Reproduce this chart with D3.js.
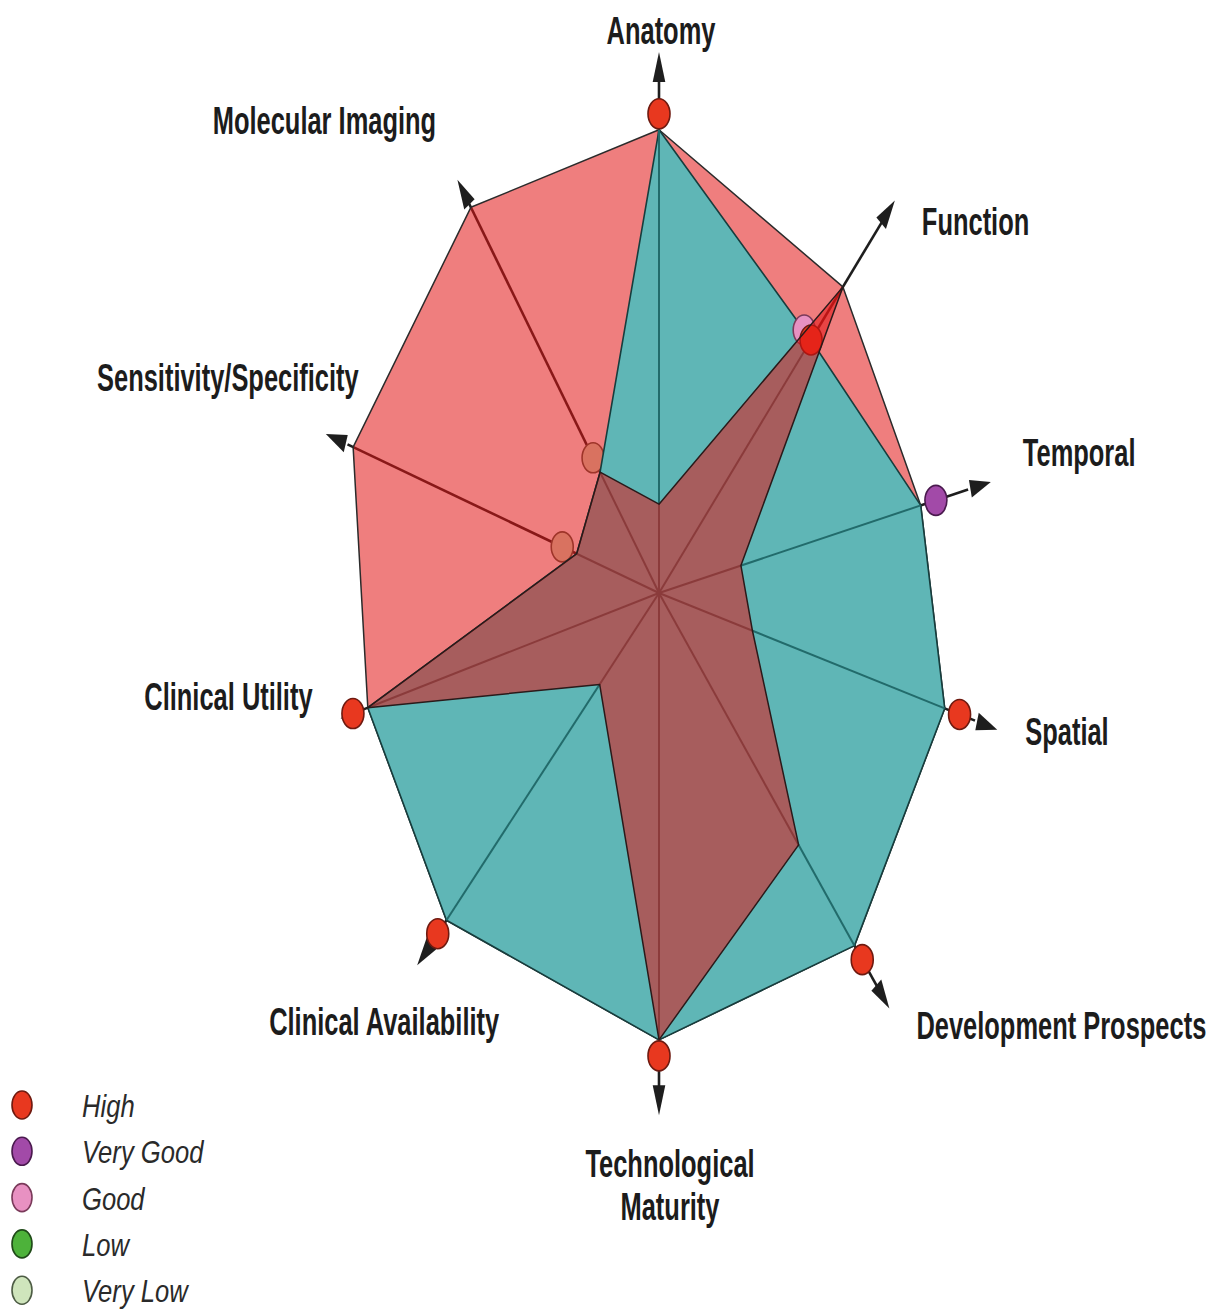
<!DOCTYPE html>
<html>
<head>
<meta charset="utf-8">
<script src="https://cdn.jsdelivr.net/npm/d3@7"></script>
<style>
  html, body { margin: 0; padding: 0; background: #fff; }
  svg { display: block; font-family: "Liberation Sans", Arial, sans-serif; }
</style>
</head>
<body>
<script>
// ---- data ----
const axes = [
  "Anatomy", "Function", "Temporal", "Spatial", "Development Prospects",
  "Technological Maturity", "Clinical Availability", "Clinical Utility",
  "Sensitivity/Specificity", "Molecular Imaging"
];
// scores on a 0-10 radial scale
const outerValues = [9.65, 7.44, 5.75, 6.42, 8.4, 9.31, 8.13, 6.52, 7.06, 8.94];
const tealValues  = [9.65, 6.15, 5.75, 6.42, 8.4, 9.31, 8.13, 6.52, 1.9, 2.8];
const starValues  = [1.85, 7.44, 1.8, 2.1, 6.0, 9.31, 2.27, 6.52, 1.9, 2.8];
const axisReach   = [11.27, 9.54, 7.29, 7.6, 9.9, 10.88, 9.25, 7.13, 7.69, 9.58];
const ratings = [
  ["High"], ["Good", "High"], ["Very Good"], ["High"], ["High"],
  ["High"], ["High"], ["High"], ["Very Low"], ["Very Low"]
];
const levels = ["High", "Very Good", "Good", "Low", "Very Low"];

// ---- layout ----
const width = 1206, height = 1314;
const cx = 659, cy = 593;
const axisAngle = [0, 31, 71.5, 112, 151, 180, 213, 248.5, 295.5, 334];
const labelOffset = [[2, -8], [27, 35], [32, -16], [28, 15], [27, 30],
  [11, 62], [-33, 70], [-28, -8], [-98, -43], [-133, -46]];
const labelAnchor = ["middle", "start", "start", "start", "start",
  "middle", "middle", "end", "middle", "middle"];
const SQUISH = 0.7;
const DOT_RX = 11, DOT_RY = 15, DOT_GAP = 16;

const levelFill = d3.scaleOrdinal(levels, ["#e8381f", "#a24aa8", "#e891c2", "#4db23a", "#cfe5bc"]);
const levelStroke = d3.scaleOrdinal(levels, ["#6e1a10", "#4a1a4e", "#7a3a5a", "#1f4a18", "#4d5c44"]);

const r = d3.scaleLinear().domain([0, 10]).range([0, 480]);
const angle = d3.scaleOrdinal()
  .domain(axes)
  .range(axisAngle.map(a => a * Math.PI / 180));

const pt = (axis, v, extra = 0) => d3.pointRadial(angle(axis), r(v) + extra);

const svg = d3.select("body").append("svg")
  .attr("width", width)
  .attr("height", height);

const g = svg.append("g").attr("transform", `translate(${cx},${cy})`);

const series = vals => axes.map((a, i) => ({ axis: a, value: vals[i] }));
const radial = d3.lineRadial()
  .angle(d => angle(d.axis))
  .radius(d => r(d.value))
  .curve(d3.curveLinearClosed);

// arrowhead drawn in "unsquished" space, then narrowed horizontally
function arrowHead(tip) {
  const dx = tip[0] / SQUISH, dy = tip[1];
  const len = Math.hypot(dx, dy);
  const ux = dx / len, uy = dy / len;
  const L = 30, W = 9;
  const bx = -ux * L, by = -uy * L;
  const px = -uy * W, py = ux * W;
  return [
    tip,
    [tip[0] + (bx + px) * SQUISH, tip[1] + by + py],
    [tip[0] + (bx - px) * SQUISH, tip[1] + by - py]
  ];
}

// ---- axes with arrows (underneath everything) ----
const axisG = g.append("g").attr("class", "axes");
axes.forEach((a, i) => {
  const tip = pt(a, axisReach[i]);
  const base = pt(a, axisReach[i], -24);
  axisG.append("line")
    .attr("x1", 0).attr("y1", 0)
    .attr("x2", base[0]).attr("y2", base[1])
    .attr("stroke", "#1e1e1e")
    .attr("stroke-width", 2.6);
  axisG.append("path")
    .attr("d", d3.line()(arrowHead(tip)) + "Z")
    .attr("fill", "#1e1e1e");
});

// ---- rating dots ----
function dotData(filter) {
  const out = [];
  axes.forEach((a, i) => {
    const n = ratings[i].length;
    if (!filter(i)) return;
    ratings[i].forEach((lv, j) => {
      const covered = starValues[i] > tealValues[i];
      const gap = covered ? (j === n - 1 ? 0 : 5) : DOT_GAP;
      const p = pt(a, tealValues[i], gap);
      const ang = angle(a);
      const shift = (n - 1 - j) * 11;
      out.push({
        level: lv,
        x: p[0] - Math.cos(ang) * shift,
        y: p[1] - Math.sin(ang) * shift
      });
    });
  });
  return out;
}

function drawDots(sel, data) {
  sel.selectAll("ellipse")
    .data(data)
    .join("ellipse")
    .attr("cx", d => d.x)
    .attr("cy", d => d.y)
    .attr("rx", DOT_RX)
    .attr("ry", DOT_RY)
    .attr("fill", d => levelFill(d.level))
    .attr("stroke", d => levelStroke(d.level))
    .attr("stroke-width", 1.6);
}

// dots sitting inside the outer red area (tinted by it)
drawDots(g.append("g"), dotData(i => outerValues[i] > tealValues[i] && starValues[i] <= tealValues[i]));

// ---- outer red polygon ----
g.append("path")
  .datum(series(outerValues))
  .attr("d", radial)
  .attr("fill", "#e11414")
  .attr("fill-opacity", 0.55)
  .attr("stroke", "#2b2b2b")
  .attr("stroke-width", 1.5)
  .attr("stroke-linejoin", "round");

// ---- teal polygon with spokes ----
g.append("path")
  .datum(series(tealValues))
  .attr("d", radial)
  .attr("fill", "#5fb6b6")
  .attr("stroke", "#173d3d")
  .attr("stroke-width", 1.6)
  .attr("stroke-linejoin", "round");

g.append("g")
  .selectAll("line")
  .data(series(tealValues))
  .join("line")
  .attr("x1", 0).attr("y1", 0)
  .attr("x2", d => pt(d.axis, d.value)[0])
  .attr("y2", d => pt(d.axis, d.value)[1])
  .attr("stroke", "#226b6b")
  .attr("stroke-width", 2);

// dots covered by the star
drawDots(g.append("g"), dotData(i => starValues[i] > tealValues[i]));

// ---- star polygon (translucent red) ----
g.append("path")
  .datum(series(starValues))
  .attr("d", radial)
  .attr("fill", "#e11414")
  .attr("fill-opacity", 0.55)
  .attr("stroke", "#2a1a1a")
  .attr("stroke-width", 1.5)
  .attr("stroke-linejoin", "round");

// dots on top
drawDots(g.append("g"), dotData(i => outerValues[i] <= tealValues[i] && starValues[i] <= tealValues[i]));

// ---- axis labels ----
const labelG = g.append("g").attr("class", "labels");
axes.forEach((a, i) => {
  const tip = pt(a, axisReach[i]);
  const x = tip[0] + labelOffset[i][0];
  const y = tip[1] + labelOffset[i][1];
  const lines = a === "Technological Maturity" ? a.split(" ") : [a];
  const t = labelG.append("text")
    .attr("transform", `translate(${x},${y}) scale(0.67,1)`)
    .attr("text-anchor", labelAnchor[i])
    .attr("font-size", 38)
    .attr("font-weight", "bold")
    .attr("fill", "#1c1c1c");
  lines.forEach((ln, k) => {
    t.append("tspan").attr("x", 0).attr("y", k * 43).text(ln);
  });
});

// ---- legend ----
const legend = svg.append("g").attr("transform", "translate(22,1105)");
const item = legend.selectAll("g")
  .data(levels)
  .join("g")
  .attr("transform", (d, i) => `translate(0,${i * 46.3})`);

item.append("ellipse")
  .attr("rx", 10)
  .attr("ry", 14)
  .attr("fill", d => levelFill(d))
  .attr("stroke", d => levelStroke(d))
  .attr("stroke-width", 1.6);

item.append("text")
  .attr("transform", "translate(60,12) scale(0.8,1)")
  .attr("font-size", 32)
  .attr("font-style", "italic")
  .attr("fill", "#2a2a2a")
  .text(d => d);
</script>
</body>
</html>
